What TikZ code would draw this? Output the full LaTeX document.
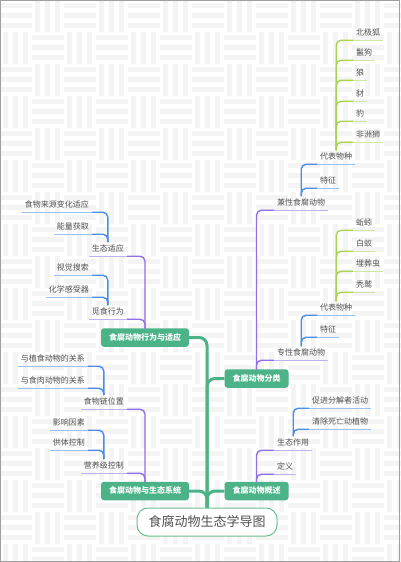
\documentclass[tikz,border=0pt]{standalone}
\usepackage{fontspec}
\setmainfont{Noto Sans CJK SC}
\definecolor{mgreen}{HTML}{4CB288}
\definecolor{rgreen}{HTML}{6CBE8F}
\definecolor{cpurple}{HTML}{9070EA}
\definecolor{cblue}{HTML}{4A8CE6}
\definecolor{clime}{HTML}{A8D452}
\definecolor{tgray}{HTML}{505050}
\definecolor{bgstripe}{HTML}{F4F4F4}
\newcommand\myR[3]{\draw[conn,#1] (#2.north) |- (#3.south west); \draw[uline,#1!55] (#3.south west) -- (#3.south east);}
\newcommand\myL[3]{\draw[conn,#1] (#2.north) |- (#3.south east); \draw[uline,#1!55] (#3.south east) -- (#3.south west);}
\begin{document}
\begin{tikzpicture}[x=1pt,y=-1pt,
  leaf/.style={font=\fontsize{8}{9}\selectfont, text=tgray, inner xsep=3pt, inner ysep=3pt, text height=6.5pt, text depth=1.5pt},
  rleaf/.style={leaf, anchor=west},
  lleaf/.style={leaf, anchor=east},
  mbox/.style={fill=mgreen, rounded corners=3pt, text=white, font=\bfseries\fontsize{8}{9}\selectfont, inner xsep=8pt, inner ysep=0pt, minimum height=18.5pt, text height=6.5pt, text depth=1.5pt},
  rootbox/.style={draw=rgreen, line width=1pt, fill=white, rounded corners=11pt, text=tgray, font=\fontsize{13}{15}\selectfont, minimum width=140pt, minimum height=28pt, inner xsep=10pt},
  conn/.style={line width=1.4pt, rounded corners=5pt, line cap=round},
  uline/.style={line width=0.7pt},
  trunk/.style={mgreen, line width=3pt, rounded corners=8pt}]
\useasboundingbox (0,0) rectangle (400,562);
% background weave
\fill[white] (0,0) rectangle (400,562);
\foreach \i in {0,...,12}{
  \foreach \j in {0,...,17}{
    \pgfmathtruncatemacro\pp{mod(\i+\j,2)}
    \ifnum\pp=0
      \foreach \k in {0,1,2}{\fill[bgstripe] (\i*32, \j*32+3+\k*10) rectangle ++(32,5);}
    \else
      \foreach \k in {0,1,2}{\fill[bgstripe] (\i*32+3+\k*10, \j*32) rectangle ++(5,32);}
    \fi
  }
}
\draw[gray!75, line width=1pt] (0.5,0.5) rectangle (399.5,561.5);

% root and main boxes
\node[rootbox] (root) at (207,522) {食腐动物生态学导图};
\node[mbox] (bh) at (145,337.5) {食腐动物行为与适应};
\node[mbox] (cl) at (256.5,378.5) {食腐动物分类};
\node[mbox] (ec) at (145,491) {食腐动物与生态系统};
\node[mbox] (ov) at (256.5,491) {食腐动物概述};
\draw[trunk] (bh.east) -| (root.north);
\draw[trunk] (root.north) |- (cl.west);
\draw[trunk] (ec.east) -| (root.north);
\draw[trunk] (root.north) |- (ov.west);

% classification branch
\node[rleaf] (fac) at (274,203) {兼性食腐动物};
\node[rleaf] (obl) at (274,353) {专性食腐动物};
\myR{cpurple}{cl}{fac}
\myR{cpurple}{cl}{obl}
\node[rleaf] (rep1) at (317,157) {代表物种};
\node[rleaf] (fea1) at (317,181) {特征};
\myR{cblue}{fac}{rep1}
\myR{cblue}{fac}{fea1}
\node[rleaf] (a1) at (353,33) {北极狐};
\node[rleaf] (a2) at (353,53) {鬣狗};
\node[rleaf] (a3) at (353,73) {狼};
\node[rleaf] (a4) at (353,94) {豺};
\node[rleaf] (a5) at (353,114) {豹};
\node[rleaf] (a6) at (353,135) {非洲狮};
\foreach \n in {a1,a2,a3,a4,a5,a6}{\myR{clime}{rep1}{\n}}
\node[rleaf] (rep2) at (317,308) {代表物种};
\node[rleaf] (fea2) at (317,330) {特征};
\myR{cblue}{obl}{rep2}
\myR{cblue}{obl}{fea2}
\node[rleaf] (b1) at (353,223) {蚯蚓};
\node[rleaf] (b2) at (353,244) {白蚁};
\node[rleaf] (b3) at (353,264) {埋葬虫};
\node[rleaf] (b4) at (353,285) {秃鹫};
\foreach \n in {b1,b2,b3,b4}{\myR{clime}{rep2}{\n}}

% overview branch
\node[rleaf] (role) at (274,443) {生态作用};
\node[rleaf] (defn) at (274,467) {定义};
\myR{cpurple}{ov}{role}
\myR{cpurple}{ov}{defn}
\node[rleaf] (r1) at (309,401) {促进分解者活动};
\node[rleaf] (r2) at (309,422) {清除死亡动植物};
\myR{cblue}{role}{r1}
\myR{cblue}{role}{r2}

% behaviour branch
\node[lleaf] (ada) at (127,249) {生态适应};
\node[lleaf] (for) at (127,312) {觅食行为};
\myL{cpurple}{bh}{ada}
\myL{cpurple}{bh}{for}
\node[lleaf] (c1) at (92,205) {食物来源变化适应};
\node[lleaf] (c2) at (92,227) {能量获取};
\myL{cblue}{ada}{c1}
\myL{cblue}{ada}{c2}
\node[lleaf] (d1) at (92,268) {视觉搜索};
\node[lleaf] (d2) at (92,290) {化学感受器};
\myL{cblue}{for}{d1}
\myL{cblue}{for}{d2}

% ecosystem branch
\node[lleaf] (chain) at (127,402) {食物链位置};
\node[lleaf] (troph) at (127,466) {营养级控制};
\myL{cpurple}{ec}{chain}
\myL{cpurple}{ec}{troph}
\node[lleaf] (e1) at (88,359) {与植食动物的关系};
\node[lleaf] (e2) at (88,381) {与食肉动物的关系};
\myL{cblue}{chain}{e1}
\myL{cblue}{chain}{e2}
\node[lleaf] (f1) at (88,423) {影响因素};
\node[lleaf] (f2) at (88,443) {供体控制};
\myL{cblue}{troph}{f1}
\myL{cblue}{troph}{f2}
\end{tikzpicture}
\end{document}
